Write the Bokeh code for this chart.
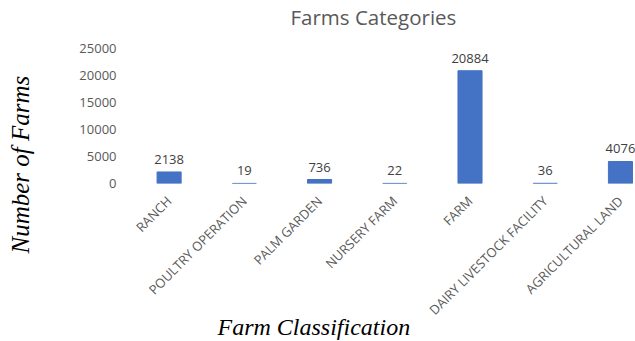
import math
from bokeh.plotting import figure
from bokeh.models import Range1d, FixedTicker, ColumnDataSource, LabelSet, Title
from bokeh.core.properties import value
from bokeh.embed import file_html
from bokeh.resources import INLINE

categories = ["RANCH", "POULTRY OPERATION", "PALM GARDEN", "NURSERY FARM",
              "FARM", "DAIRY LIVESTOCK FACILITY", "AGRICULTURAL LAND"]
farms = [2138, 19, 736, 22, 20884, 36, 4076]
y_ticks = [0, 5000, 10000, 15000, 20000, 25000]

xs = list(range(len(categories)))
src = ColumnDataSource(dict(x=xs, top=farms, lab=[str(v) for v in farms]))

p = figure(width=635, height=341, output_backend="svg", toolbar_location=None,
           x_range=Range1d(-0.5, 6.2), y_range=Range1d(0, 25000),
           min_border_left=131, min_border_right=0, min_border_top=48,
           min_border_bottom=158)
p.title = None
p.outline_line_color = None
p.xgrid.visible = False
p.ygrid.visible = False
p.background_fill_color = "white"
p.border_fill_color = "white"

p.vbar(x="x", top="top", width=0.32, bottom=0, source=src,
       fill_color="#4472C4", line_color="#4472C4")

p.add_layout(LabelSet(x="x", y="top", text="lab", source=src,
                      text_align="center", text_baseline="alphabetic",
                      y_offset=8, text_font=value("Open Sans"),
                      text_font_size="13px", text_color="#404040"))

p.xaxis.ticker = FixedTicker(ticks=xs)
p.xaxis.major_label_overrides = {i: c for i, c in enumerate(categories)}
p.xaxis.major_label_orientation = math.pi / 4
p.xaxis.axis_line_color = None
p.xaxis.major_tick_line_color = None
p.xaxis.minor_tick_line_color = None
p.xaxis.major_tick_out = 0
p.xaxis.major_tick_in = 0
p.xaxis.major_label_standoff = 15
p.xaxis.major_label_text_font = "Open Sans"
p.xaxis.major_label_text_font_size = "13px"
p.xaxis.major_label_text_color = "#595959"

p.yaxis.ticker = FixedTicker(ticks=y_ticks)
p.yaxis.axis_line_color = None
p.yaxis.major_tick_line_color = None
p.yaxis.minor_tick_line_color = None
p.yaxis.major_tick_out = 0
p.yaxis.major_tick_in = 0
p.yaxis.major_label_standoff = 15
p.yaxis.major_label_text_font = "Open Sans"
p.yaxis.major_label_text_font_size = "13px"
p.yaxis.major_label_text_color = "#595959"

# top: spacer then chart title
p.add_layout(Title(text=" ", text_font_size="1px", standoff=15), "above")
p.add_layout(Title(text="Farms Categories", align="left", offset=159,
                   standoff=0, vertical_align="bottom",
                   text_font="Open Sans", text_font_style="normal",
                   text_font_size="20.5px", text_color="#595959"), "above")

# left: spacer then y axis title
p.add_layout(Title(text=" ", text_font_size="1px", standoff=40), "left")
p.add_layout(Title(text="Number of Farms", align="left", offset=-70,
                   standoff=0, vertical_align="bottom",
                   text_font="Liberation Serif", text_font_style="italic",
                   text_font_size="25px", text_color="black"), "left")

# below: x axis title
p.add_layout(Title(text="Farm Classification", align="left", offset=86,
                   standoff=-27, vertical_align="top",
                   text_font="Liberation Serif", text_font_style="italic",
                   text_font_size="24px", text_color="black"), "below")

open("out.html", "w").write(file_html(p, INLINE))
